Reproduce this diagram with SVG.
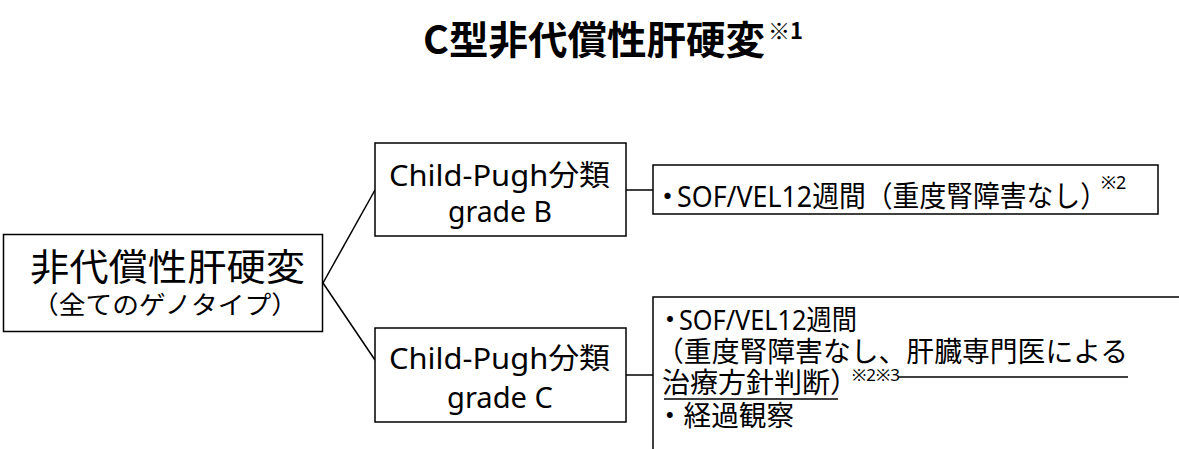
<svg xmlns="http://www.w3.org/2000/svg" width="1179" height="449" viewBox="0 0 1179 449">
<style>
.box{fill:#fff;stroke:#000;stroke-width:1.5}
.ln{fill:none;stroke:#000;stroke-width:1.5}
.t{font-family:"Noto Sans","Noto Sans CJK JP",sans-serif;fill:#000}
.j{font-family:"Noto Sans CJK JP",sans-serif;fill:#000}
.ul{stroke:#000;stroke-width:1.5}
</style>
<rect width="1179" height="449" fill="#fff"/>
<g id="title">
<text class="j" x="423" y="54" font-size="39" font-weight="bold" textLength="342" lengthAdjust="spacingAndGlyphs">C型非代償性肝硬変</text>
<text class="j" x="768" y="39" font-size="22" font-weight="bold">※1</text>
</g>
<g id="connectors">
<line class="ln" x1="323" y1="283" x2="375" y2="190"/>
<line class="ln" x1="323" y1="283" x2="375" y2="360"/>
<line class="ln" x1="626" y1="190" x2="653" y2="190"/>
<line class="ln" x1="626" y1="375" x2="653" y2="375"/>
</g>
<g id="node-root">
<rect class="box" x="3.5" y="234.5" width="319" height="97"/>
<text class="j" x="30" y="281" font-size="37" textLength="275" lengthAdjust="spacingAndGlyphs">非代償性肝硬変</text>
<text class="j" x="32" y="314" font-size="25" textLength="266" lengthAdjust="spacingAndGlyphs">（全てのゲノタイプ）</text>
</g>
<g id="node-gradeB">
<rect class="box" x="375" y="143" width="251" height="93"/>
<text class="t" x="389" y="186" font-size="29" textLength="221" lengthAdjust="spacingAndGlyphs">Child-Pugh分類</text>
<text class="t" x="448" y="222" font-size="29" textLength="104" lengthAdjust="spacingAndGlyphs">grade B</text>
</g>
<g id="node-gradeC">
<rect class="box" x="375" y="328" width="251" height="94"/>
<text class="t" x="389" y="369" font-size="29" textLength="221" lengthAdjust="spacingAndGlyphs">Child-Pugh分類</text>
<text class="t" x="447" y="408" font-size="29" textLength="106" lengthAdjust="spacingAndGlyphs">grade C</text>
</g>
<g id="node-treatB">
<rect class="box" x="653" y="165" width="505" height="49"/>
<text class="t" y="207" font-size="29"><tspan x="653">・</tspan><tspan x="677" textLength="430" lengthAdjust="spacingAndGlyphs">SOF/VEL12週間（重度腎障害なし）</tspan></text>
<text class="t" x="1101" y="189" font-size="18">※2</text>
</g>
<g id="node-treatC">
<rect class="box" x="653" y="297" width="540" height="170"/>
<text class="t" y="330" font-size="28"><tspan x="656">・</tspan><tspan x="679" textLength="178" lengthAdjust="spacingAndGlyphs">SOF/VEL12週間</tspan></text>
<text class="j" x="656" y="362" font-size="28" textLength="472" lengthAdjust="spacingAndGlyphs">（重度腎障害なし、肝臓専門医による</text>
<line class="ul" x1="898" y1="377" x2="1128" y2="377"/>
<text class="j" x="662" y="393" font-size="28" textLength="196" lengthAdjust="spacingAndGlyphs">治療方針判断）</text>
<line class="ul" x1="664" y1="399" x2="838" y2="399"/>
<text class="t" x="852" y="381" font-size="17">※2※3</text>
<text class="j" x="656" y="426" font-size="28" textLength="138" lengthAdjust="spacingAndGlyphs">・経過観察</text>
</g>
</svg>
